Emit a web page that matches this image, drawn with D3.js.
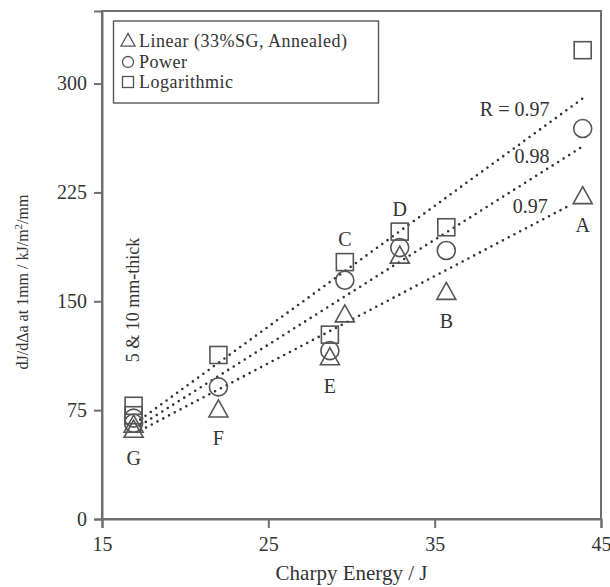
<!DOCTYPE html>
<html><head><meta charset="utf-8">
<script src="https://cdn.jsdelivr.net/npm/d3@7"></script>
<style>
body{margin:0;background:#fff;}
text{font-family:"Liberation Serif","Times New Roman",serif;fill:#333;}
</style></head>
<body><svg id="c" width="610" height="587"></svg>
<script>
// ---- data ----
const specimens = ["A","B","C","D","E","F","G","G"];
const charpy = [43.9, 35.7, 29.6, 32.9, 28.7, 22.0, 16.9, 16.9];
const linearVals = [222, 156, 140.5, 181, 111, 75, 61, 64.5];
const powerVals = [269, 185, 164.5, 187, 116, 91, 66, 69.5];
const logVals = [323, 201, 177, 198, 127, 113, 71.5, 78];
const labelPos = ["below","below","above","above","below","below","below",null];
const xTicks = [15, 25, 35, 45];
const yTicks = [0, 75, 150, 225, 300];
const fitLabels = ["R = 0.97", "0.98", "0.97"];
const fitX1 = [17.3, 17.3, 17.3];
const fitY1 = [68.5, 64.5, 61];
const fitX2 = [44.05, 43.75, 43.15];
const fitY2 = [291, 255.6, 216.3];
const fitLabelX = [41.9, 41.9, 41.8];
const fitLabelY = [278, 245, 211];
const legendNames = ["Linear (33%SG, Annealed)", "Power", "Logarithmic"];

// ---- layout ----
const svg = d3.select("#c");
const L = 102, R = 601, T = 11, B = 519;
const x = d3.scaleLinear().domain([15, 45]).range([L, R]);
const y = d3.scaleLinear().domain([0, 350]).range([B, T]);
const frameCol = "#6e6e6e", markCol = "#555";
const serif = '"Liberation Serif", "Times New Roman", serif';

// frame
svg.append("rect").attr("x", L).attr("y", T).attr("width", R - L).attr("height", B - T)
  .attr("fill", "none").attr("stroke", frameCol).attr("stroke-width", 2);

const yAxis = svg.append("g").attr("transform", `translate(${L},0)`)
  .call(d3.axisLeft(y).tickValues(yTicks).tickSize(8).tickPadding(7));
const xAxis = svg.append("g").attr("transform", `translate(0,${B})`)
  .call(d3.axisBottom(x).tickValues(xTicks).tickSize(9).tickPadding(9));
[xAxis, yAxis].forEach(g => {
  g.attr("font-family", serif).attr("font-size", 20);
  g.selectAll("path,line").attr("stroke", frameCol).attr("stroke-width", 2);
  g.selectAll("text").attr("fill", "#333");
});

// axis titles
svg.append("text").attr("x", (L + R) / 2).attr("y", 580).attr("text-anchor", "middle")
  .style("font-size", "21px").text("Charpy Energy / J");
const yl = svg.append("text").attr("transform", `translate(28,${(T + B) / 2 + 17}) rotate(-90)`)
  .attr("text-anchor", "middle").style("font-size", "16px");
yl.append("tspan").text("dJ/dΔa at 1mm / kJ/m");
yl.append("tspan").attr("dy", -6).style("font-size", "11px").text("2");
yl.append("tspan").attr("dy", 6).text("/mm");

// fit lines
fitLabels.forEach((lab, i) => {
  svg.append("line").attr("x1", x(fitX1[i])).attr("y1", y(fitY1[i]))
    .attr("x2", x(fitX2[i])).attr("y2", y(fitY2[i]))
    .attr("stroke", "#333").attr("stroke-width", 2.6).attr("stroke-linecap", "round")
    .attr("stroke-dasharray", "0,6.5");
  svg.append("text").attr("x", x(fitLabelX[i])).attr("y", y(fitLabelY[i]))
    .attr("text-anchor", "end").style("font-size", "20px").text(lab);
});

// markers
const ms = 17;
const triPath = s => { const h = s * 0.9; return `M0,${-h * 0.6}L${s / 2},${h * 0.4}L${-s / 2},${h * 0.4}Z`; };
function drawTri(g, cx, cy, s, sw) {
  g.append("path").attr("transform", `translate(${cx},${cy})`).attr("d", triPath(s))
    .attr("fill", "none").attr("stroke", markCol).attr("stroke-width", sw);
}
function drawCirc(g, cx, cy, s, sw) {
  g.append("circle").attr("cx", cx).attr("cy", cy).attr("r", s / 2)
    .attr("fill", "none").attr("stroke", markCol).attr("stroke-width", sw);
}
function drawSq(g, cx, cy, s, sw) {
  g.append("rect").attr("x", cx - s / 2).attr("y", cy - s / 2).attr("width", s).attr("height", s)
    .attr("fill", "none").attr("stroke", markCol).attr("stroke-width", sw);
}
const mg = svg.append("g");
specimens.forEach((s, i) => {
  drawSq(mg, x(charpy[i]), y(logVals[i]), ms, 1.6);
  drawCirc(mg, x(charpy[i]), y(powerVals[i]), ms + 1, 1.6);
  drawTri(mg, x(charpy[i]), y(linearVals[i]), ms + 2, 1.6);
});

// point labels
specimens.forEach((s, i) => {
  if (!labelPos[i]) return;
  const lo = Math.min(linearVals[i], powerVals[i], logVals[i]);
  const hi = Math.max(linearVals[i], powerVals[i], logVals[i]);
  const py = labelPos[i] === "below" ? y(lo) + 35 : y(hi) - 16;
  svg.append("text").attr("x", x(charpy[i])).attr("y", py).attr("text-anchor", "middle")
    .style("font-size", "20px").text(s);
});

svg.append("text").attr("transform", `translate(${x(16.9) + 5},300) rotate(-90)`)
  .attr("text-anchor", "middle").style("font-size", "18px").text("5 & 10 mm-thick");

// legend
const lg = svg.append("g");
lg.append("rect").attr("x", 113.5).attr("y", 21).attr("width", 265).attr("height", 82)
  .attr("fill", "#fff").attr("stroke", "#555").attr("stroke-width", 1.4);
const rowY = [41, 62, 82];
const drawers = [drawTri, drawCirc, drawSq];
const legSize = [14, 11, 11];
legendNames.forEach((n, i) => {
  drawers[i](lg, 128, rowY[i], legSize[i], 1.3);
  lg.append("text").attr("x", 139).attr("y", rowY[i] + 6).style("font-size", "18px")
    .style("letter-spacing", "0.5px").text(n);
});
</script></body></html>
